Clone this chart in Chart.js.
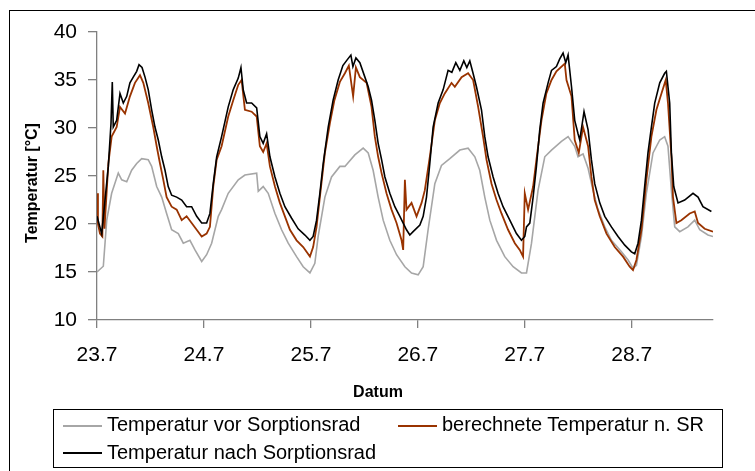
<!DOCTYPE html>
<html>
<head>
<meta charset="utf-8">
<script src="https://cdn.jsdelivr.net/npm/chart.js@4"></script>
<style>
  body { margin: 0; background: #fff; overflow: hidden; }
  #wrap { position: relative; width: 755px; height: 471px; overflow: hidden; font-family: "Liberation Sans", Arial, sans-serif; }
  #frame { position: absolute; left: 9px; top: 10px; width: 800px; height: 500px; border: 1px solid #000; }
  #chart { position: absolute; left: 0; top: 0; }
  #legend { position: absolute; left: 53px; top: 409px; width: 659px; height: 55px; padding: 2px 0 0 9px;
            border: 1px solid #000; display: grid; grid-template-columns: 335px auto; font-size: 20px; line-height: 25px; color: #000; }
  #legend span.line { display: inline-block; width: 39px; height: 2px; vertical-align: middle; margin-right: 5px; }
</style>
</head>
<body>
<div id="wrap">
  <div id="frame"></div>
  <canvas id="chart" width="755" height="471"></canvas>
  <div id="legend"></div>
</div>
<script>
// x = Tage seit 23.7., 0:00
var dayLabels = ['23.7', '24.7', '25.7', '26.7', '27.7', '28.7'];
var xTitle = 'Datum';
var yTitle = 'Temperatur [°C]';

// Temperatur vor Sorptionsrad
var vorDays = [0,0.059,0.091,0.137,0.199,0.231,0.278,0.324,0.371,0.418,
  0.479,0.511,0.558,0.605,0.651,0.698,0.760,0.807,0.869,0.916,
  0.979,1.025,1.072,1.134,1.165,1.227,1.321,1.383,1.493,1.508,
  1.554,1.601,1.664,1.726,1.788,1.866,1.928,1.991,2.037,2.068,
  2.131,2.193,2.271,2.318,2.411,2.489,2.536,2.582,2.629,2.676,
  2.738,2.801,2.879,2.941,3.003,3.050,3.096,3.159,3.221,3.299,
  3.393,3.470,3.533,3.579,3.626,3.673,3.736,3.813,3.891,3.969,
  4.016,4.063,4.124,4.187,4.250,4.343,4.405,4.467,4.498,4.545,
  4.592,4.638,4.685,4.748,4.810,4.904,4.966,5.012,5.044,5.091,
  5.137,5.199,5.262,5.308,5.339,5.371,5.402,5.449,5.526,5.589,
  5.636,5.713,5.760];
var vorTemp = [15.0,15.6,20.4,23.2,25.3,24.6,24.4,25.6,26.3,26.8,
  26.7,26.0,23.9,22.8,21.1,19.4,19.0,18.0,18.3,17.3,
  16.1,16.8,18.0,20.8,21.5,23.2,24.6,25.1,25.3,23.4,
  23.9,23.2,21.1,19.4,18.0,16.6,15.55,14.9,15.9,18.7,
  22.8,24.9,26.0,26.0,27.2,27.9,27.4,25.6,22.8,20.4,
  18.3,16.8,15.55,14.9,14.7,15.55,19.4,24.2,26.1,26.8,
  27.7,27.9,27.0,25.6,22.8,20.4,18.3,16.6,15.55,14.9,
  14.9,18.0,23.5,27.0,27.7,28.6,29.1,28.1,27.0,27.3,
  25.8,23.5,21.5,19.7,18.3,17.1,16.25,15.4,15.7,18.7,
  23.2,27.4,28.75,29.1,28.1,23.5,19.7,19.2,19.7,20.4,
  19.4,18.85,18.7];

// berechnete Temperatur n. SR
var berDays = [0,0.009,0.028,0.050,0.059,0.070,0.106,0.137,0.184,0.215,
  0.262,0.308,0.355,0.402,0.433,0.479,0.526,0.558,0.589,0.620,
  0.651,0.698,0.745,0.792,0.838,0.885,0.932,0.979,1.025,1.056,
  1.087,1.119,1.165,1.227,1.274,1.321,1.352,1.383,1.446,1.493,
  1.523,1.554,1.586,1.617,1.664,1.710,1.757,1.804,1.866,1.928,
  1.991,2.021,2.053,2.084,2.131,2.178,2.220,2.271,2.318,2.355,
  2.395,2.421,2.458,2.521,2.567,2.598,2.629,2.661,2.707,2.754,
  2.801,2.848,2.863,2.879,2.894,2.941,2.988,3.035,3.065,3.112,
  3.159,3.206,3.252,3.315,3.346,3.409,3.470,3.517,3.564,3.610,
  3.642,3.689,3.736,3.782,3.844,3.907,3.953,3.984,4.000,4.031,
  4.078,4.109,4.156,4.202,4.250,4.296,4.374,4.390,4.437,4.467,
  4.505,4.545,4.592,4.623,4.654,4.701,4.764,4.841,4.919,4.981,
  5.012,5.044,5.091,5.137,5.184,5.231,5.278,5.318,5.339,5.371,
  5.386,5.418,5.464,5.542,5.589,5.620,5.682,5.760];
var berTemp = [23.2,20.0,19.0,18.7,25.6,19.5,26.3,29.1,30.1,32.2,
  31.5,33.3,34.7,35.5,34.7,32.6,30.1,28.1,26.3,24.6,
  22.8,21.8,21.5,20.4,20.8,20.1,19.4,18.7,19.0,19.7,
  23.9,26.7,28.1,31.2,32.9,34.5,35.0,31.9,31.7,31.2,
  28.1,27.5,28.4,26.0,23.9,22.2,20.8,19.4,18.3,17.6,
  16.6,17.6,19.7,22.8,27.4,30.5,32.9,34.8,35.7,36.5,
  33.3,36.3,35.3,34.7,32.2,29.1,27.0,25.3,23.2,21.5,
  20.1,18.3,17.3,24.6,21.5,22.2,20.8,22.2,23.5,27.0,
  30.8,32.6,33.6,34.7,34.3,35.3,35.7,35.0,32.2,29.1,
  26.7,24.2,22.5,21.1,19.4,18.0,17.3,16.6,23.2,21.5,
  23.9,26.7,30.8,33.6,35.0,35.9,36.7,35.0,33.3,28.75,
  27.4,30.1,28.1,24.9,22.5,20.8,19.0,17.6,16.6,15.55,
  15.2,16.25,19.4,24.6,29.1,31.9,33.6,35.0,32.6,27.0,
  22.8,20.1,20.4,21.1,21.3,20.1,19.5,19.2];

// Temperatur nach Sorptionsrad
var nachDays = [0,0.044,0.106,0.131,0.143,0.152,0.184,0.215,0.246,0.278,
  0.308,0.339,0.371,0.393,0.421,0.449,0.479,0.511,0.542,0.573,
  0.605,0.636,0.666,0.698,0.745,0.792,0.838,0.885,0.932,0.979,
  1.025,1.056,1.087,1.119,1.165,1.227,1.274,1.321,1.346,1.367,
  1.399,1.446,1.493,1.523,1.554,1.586,1.617,1.664,1.710,1.757,
  1.820,1.881,1.944,1.991,2.021,2.053,2.084,2.115,2.162,2.208,
  2.255,2.299,2.346,2.374,2.393,2.421,2.458,2.505,2.536,2.567,
  2.598,2.629,2.661,2.692,2.738,2.785,2.832,2.863,2.894,2.925,
  2.956,3.019,3.050,3.081,3.112,3.143,3.190,3.237,3.283,3.318,
  3.355,3.393,3.430,3.458,3.486,3.514,3.548,3.595,3.626,3.657,
  3.704,3.750,3.797,3.860,3.922,3.969,4.000,4.016,4.047,4.078,
  4.109,4.140,4.171,4.218,4.250,4.296,4.327,4.358,4.383,4.405,
  4.437,4.467,4.498,4.514,4.554,4.592,4.623,4.654,4.701,4.748,
  4.810,4.872,4.935,4.997,5.028,5.059,5.091,5.121,5.152,5.184,
  5.215,5.262,5.308,5.324,5.355,5.371,5.393,5.433,5.495,5.573,
  5.620,5.666,5.745];
var nachTemp = [20.8,19.0,26.0,30.5,34.8,30.1,30.8,33.6,32.6,33.3,
  34.7,35.3,35.9,36.6,36.3,35.3,34.0,31.9,30.1,28.75,
  27.0,25.6,23.9,23.0,22.8,22.5,21.8,21.8,20.8,20.1,
  20.1,21.1,24.2,27.0,29.1,32.2,34.0,35.2,36.3,34.0,
  32.6,32.6,32.1,29.1,28.4,29.4,27.0,24.9,23.2,21.8,
  20.6,19.5,18.85,18.3,18.7,20.4,23.2,26.3,30.1,32.9,
  35.0,36.5,37.2,37.6,36.4,37.3,36.8,35.3,34.3,32.9,
  30.8,28.4,26.7,24.9,23.2,21.8,20.8,20.1,19.4,18.85,
  19.2,19.9,20.8,22.8,26.3,30.1,32.6,34.0,36.0,35.8,
  36.8,36.0,37.0,36.3,37.0,35.8,34.3,31.9,29.1,27.0,
  24.9,23.2,21.8,20.4,19.0,18.3,18.7,19.7,20.1,22.8,
  26.0,29.8,32.6,34.7,36.0,36.4,37.2,37.8,36.8,37.6,
  34.3,30.8,29.4,28.75,31.7,29.8,26.7,24.2,22.2,20.8,
  19.7,18.7,17.8,17.1,16.9,18.0,20.4,23.9,27.4,30.1,
  32.6,34.7,35.7,35.9,32.6,27.4,23.9,22.2,22.5,23.2,
  22.8,21.8,21.3];

function toPoints(xs, ys) {
  return xs.map(function(x, i) { return { x: x, y: ys[i] }; });
}

var fontFamily = '"Liberation Sans", Arial, sans-serif';

var axisTitles = {
  id: 'axisTitles',
  afterDraw: function(chart) {
    var c = chart.ctx;
    c.save();
    c.fillStyle = '#000';
    c.font = 'bold 16px ' + fontFamily;
    c.textAlign = 'center';
    c.textBaseline = 'middle';
    c.fillText(xTitle, 378, 393);
    c.translate(33, 183);
    c.rotate(-Math.PI / 2);
    c.fillText(yTitle, 0, 0);
    c.restore();
  }
};

document.addEventListener('DOMContentLoaded', function() {
  var ctx = document.getElementById('chart').getContext('2d');
  var datasets = [
    { label: 'Temperatur vor Sorptionsrad', data: toPoints(vorDays, vorTemp), borderColor: '#a6a6a6', borderWidth: 1.6, order: 3 },
    { label: 'berechnete Temperatur n. SR', data: toPoints(berDays, berTemp), borderColor: '#993300', borderWidth: 1.8, order: 2 },
    { label: 'Temperatur nach Sorptionsrad', data: toPoints(nachDays, nachTemp), borderColor: '#000000', borderWidth: 1.6, order: 1 }
  ];
  datasets.forEach(function(d) { d.pointRadius = 0; d.tension = 0; d.fill = false; });

  new Chart(ctx, {
    type: 'line',
    data: { datasets: datasets },
    options: {
      responsive: false,
      animation: false,
      layout: { padding: { left: 0, top: 32, right: 42, bottom: 0 } },
      plugins: { legend: { display: false }, tooltip: { enabled: false } },
      scales: {
        x: {
          type: 'linear',
          min: 0,
          max: 5.76,
          afterBuildTicks: function(scale) {
            scale.ticks = dayLabels.map(function(_, i) { return { value: i }; });
          },
          afterFit: function(scale) { scale.height = 151; },
          ticks: {
            autoSkip: false,
            maxRotation: 0,
            padding: 15,
            color: '#000',
            font: { family: fontFamily, size: 21 },
            callback: function(v) { return dayLabels[v]; }
          },
          grid: { drawOnChartArea: false, drawTicks: true, tickLength: 8, color: '#808080', lineWidth: 1.3 },
          border: { color: '#808080', width: 1.3 }
        },
        y: {
          min: 10,
          max: 40,
          afterFit: function(scale) { scale.width = 97; },
          ticks: {
            stepSize: 5,
            padding: 11,
            color: '#000',
            font: { family: fontFamily, size: 21 }
          },
          grid: { drawOnChartArea: false, drawTicks: true, tickLength: 9, color: '#808080', lineWidth: 1.3 },
          border: { color: '#808080', width: 1.3 }
        }
      }
    },
    plugins: [axisTitles]
  });

  // Legende wie im Original: zwei Spalten im Rahmen
  var legend = document.getElementById('legend');
  datasets.forEach(function(d) {
    var item = document.createElement('div');
    item.innerHTML = '<span class="line" style="background:' + d.borderColor + '"></span>' + d.label;
    legend.appendChild(item);
  });
});
</script>
</body>
</html>
